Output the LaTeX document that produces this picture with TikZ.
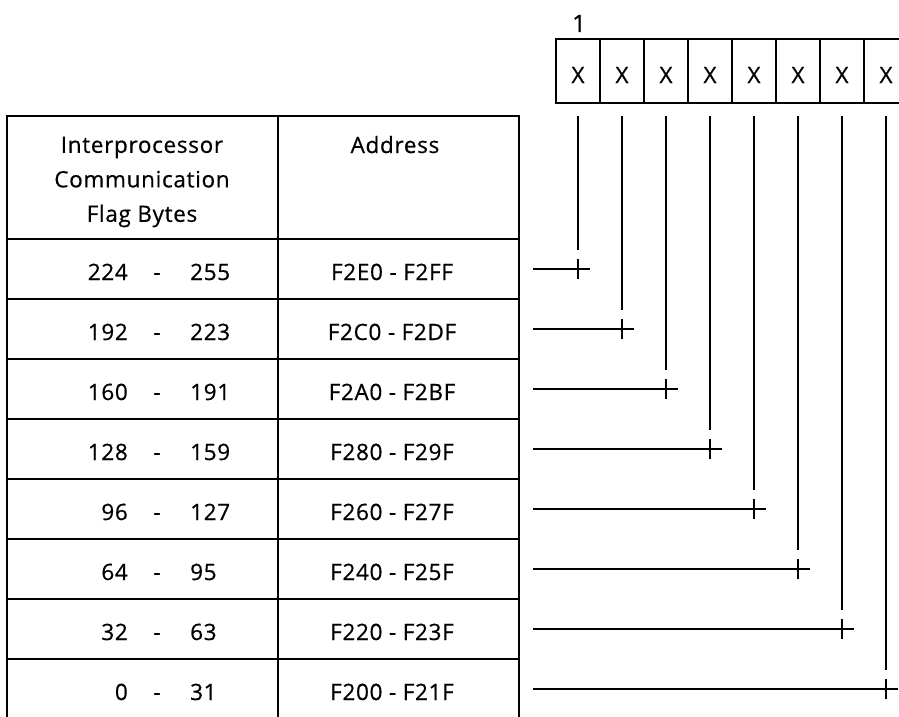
\documentclass[tikz,border=0pt]{standalone}
\usepackage{fontspec}
\setmainfont[LetterSpace=3,FakeBold=0.6]{Open Sans}
\begin{document}
\begin{tikzpicture}[x=1pt,y=-1pt,
  tbl/.style={line width=1.9pt},
  conn/.style={line width=1.5pt},
  txt/.style={font=\fontsize{22.5}{26}\selectfont, inner sep=0pt},
  cellbox/.style={draw, line width=1.9pt, minimum width=44pt, minimum height=64pt,
    inner sep=0pt, text height=24pt, text depth=0pt, font=\fontsize{22.5}{26}\selectfont},
  hdr/.style={font=\fontsize{22.5}{34.5}\selectfont, inner sep=0pt, align=center}]
\useasboundingbox (0,0) rectangle (899,717);
\clip (0,0) rectangle (899,717);
% register
\node[txt, anchor=base, font=\fontsize{24}{28}\selectfont] (one) at (579,32) {1};
\foreach \j in {1,...,8}
  \node[cellbox] (c\j) at ({578+44*(\j-1)},71) {X};
% table frame
\draw[tbl] (7,722) -- (7,116) -- (519,116) -- (519,722);
\draw[tbl] (278,116) -- (278,722);
\foreach \k in {0,...,7}
  \draw[tbl] (7,{239+60*\k}) -- (519,{239+60*\k});
% header
\node[hdr] (h1) at (142,182) {Interprocessor\\Communication\\Flag Bytes};
\node[txt, anchor=base] (h2) at (395,153) {Address};
% rows
\foreach \a/\b/\ad [count=\n from 0] in {224/255/{F2E0 - F2FF}, 192/223/{F2C0 - F2DF},
   160/191/{F2A0 - F2BF}, 128/159/{F280 - F29F}, 96/127/{F260 - F27F},
   64/95/{F240 - F25F}, 32/63/{F220 - F23F}, 0/31/{F200 - F21F}}{
  \pgfmathtruncatemacro\j{\n+1}
  \pgfmathsetmacro\yc{269+60*\n}
  \node[txt, anchor=base east] (L\n) at (128,\yc+11) {\a};
  \node[txt, anchor=base] (D\n) at (157,\yc+11) {-};
  \node[txt, anchor=base west] (R\n) at (190,\yc+11) {\b};
  \node[txt, anchor=base] (A\n) at (392,\yc+11) {\ad};
  \coordinate (s\n) at (533,\yc);
  \coordinate (k\n) at (c\j |- s\n);
  \draw[conn] (s\n) -- ([xshift=12pt]k\n);
  \draw[conn] ([yshift=10pt]k\n) -- ([yshift=-10pt]k\n);
  \draw[conn] ([yshift=-12pt]c\j.south) -- ([yshift=19pt]k\n);
}
\end{tikzpicture}
\end{document}
